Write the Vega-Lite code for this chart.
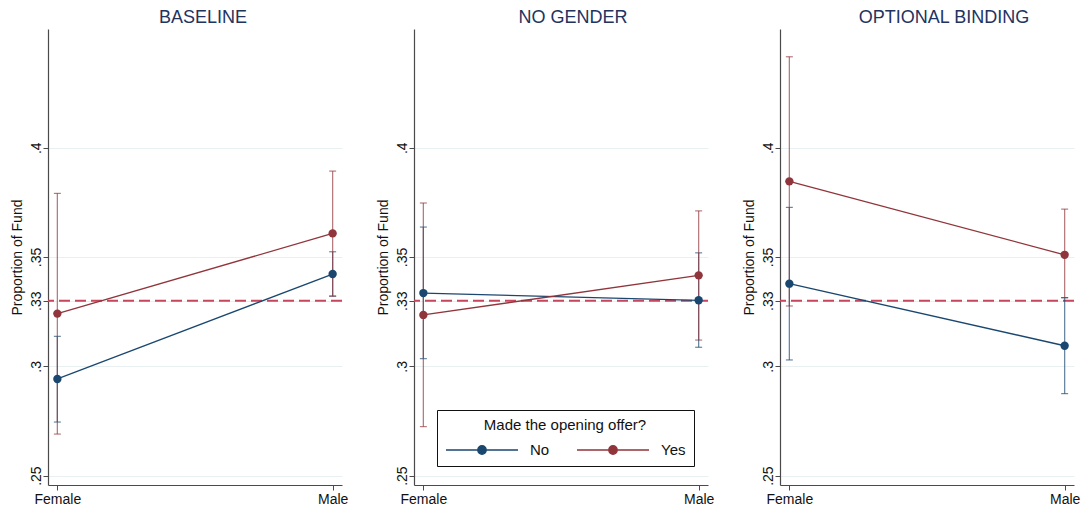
{
  "$schema": "https://vega.github.io/schema/vega-lite/v6.json",
  "background": "white",
  "padding": {"left": 10, "top": 9, "right": 5, "bottom": 2},
  "datasets": {
    "d": [
      {"panel": "BASELINE", "gender": "Female", "offer": "No", "mean": 0.2942, "lo": 0.2745, "hi": 0.3137},
      {"panel": "BASELINE", "gender": "Male", "offer": "No", "mean": 0.3422, "lo": 0.3321, "hi": 0.3524},
      {"panel": "BASELINE", "gender": "Female", "offer": "Yes", "mean": 0.3241, "lo": 0.2690, "hi": 0.3791},
      {"panel": "BASELINE", "gender": "Male", "offer": "Yes", "mean": 0.3608, "lo": 0.3321, "hi": 0.3893},
      {"panel": "NO GENDER", "gender": "Female", "offer": "No", "mean": 0.3335, "lo": 0.3035, "hi": 0.3637},
      {"panel": "NO GENDER", "gender": "Male", "offer": "No", "mean": 0.3302, "lo": 0.3087, "hi": 0.3519},
      {"panel": "NO GENDER", "gender": "Female", "offer": "Yes", "mean": 0.3235, "lo": 0.2724, "hi": 0.3747},
      {"panel": "NO GENDER", "gender": "Male", "offer": "Yes", "mean": 0.3416, "lo": 0.3120, "hi": 0.3711},
      {"panel": "OPTIONAL BINDING", "gender": "Female", "offer": "No", "mean": 0.3378, "lo": 0.3029, "hi": 0.3727},
      {"panel": "OPTIONAL BINDING", "gender": "Male", "offer": "No", "mean": 0.3094, "lo": 0.2875, "hi": 0.3314},
      {"panel": "OPTIONAL BINDING", "gender": "Female", "offer": "Yes", "mean": 0.3846, "lo": 0.3276, "hi": 0.4416},
      {"panel": "OPTIONAL BINDING", "gender": "Male", "offer": "Yes", "mean": 0.3510, "lo": 0.3314, "hi": 0.3719}
    ]
  },
  "spacing": 72,
  "bounds": "flush",
  "resolve": {"scale": {"color": "independent", "y": "independent", "x": "independent"}, "legend": {"color": "independent"}},
  "config": {
    "view": {"stroke": null},
    "font": "Liberation Sans",
    "title": {"fontSize": 18, "fontWeight": "normal", "color": "#22335f", "font": "Liberation Sans", "offset": 2, "frame": "group"},
    "axis": {"domainColor": "#4a4a4a", "tickColor": "#4a4a4a", "labelColor": "#111111", "titleColor": "#111111", "labelFont": "Liberation Sans", "titleFont": "Liberation Sans", "labelFontSize": 14, "titleFontSize": 14, "titleFontWeight": "normal", "tickSize": 5, "domainWidth": 1.2, "tickWidth": 1}
  },
  "hconcat": [
    {
      "width": 294, "height": 456,
      "title": {"text": "BASELINE", "dx": 8},
      "data": {"name": "d"},
      "layer": [
        {"data": {"values": [{}]}, "mark": {"type": "rule", "color": "#c8455e", "strokeWidth": 2, "strokeDash": [11, 5]}, "encoding": {"y": {"datum": 0.33, "type": "quantitative", "scale": {"domain": [0.2457, 0.4543], "nice": false, "zero": false}}}},
        {
          "transform": [{"filter": "datum.panel === 'BASELINE'"}],
          "encoding": {
            "x": {"field": "gender", "type": "nominal", "scale": {"type": "point", "padding": 0.034}, "axis": {"title": null, "labelAngle": 0, "labelPadding": 2}},
            "color": {"field": "offer", "type": "nominal", "scale": {"domain": ["No", "Yes"], "range": ["#1a476f", "#90353b"]}, "legend": null}
          },
          "layer": [
            {"mark": {"type": "errorbar", "ticks": {"size": 7, "thickness": 1.2}, "rule": {"strokeWidth": 1.3}, "opacity": 0.65}, "encoding": {"y": {"field": "lo", "type": "quantitative", "scale": {"domain": [0.2457, 0.4543], "nice": false, "zero": false}, "axis": {"title": "Proportion of Fund", "values": [0.25, 0.3, 0.33, 0.35, 0.4], "labelExpr": "substring(format(datum.value, '.2~f'), 1)", "labelAngle": -90, "labelAlign": "center", "labelBaseline": "alphabetic", "labelPadding": 3, "grid": true, "gridColor": "#e9f0f2", "titlePadding": 5}}, "y2": {"field": "hi"}}},
            {"mark": {"type": "line", "strokeWidth": 1.3}, "encoding": {"y": {"field": "mean", "type": "quantitative"}}},
            {"mark": {"type": "point", "filled": true, "size": 70, "opacity": 1}, "encoding": {"y": {"field": "mean", "type": "quantitative"}}}
          ]
        }
      ]
    },
    {
      "width": 294, "height": 456,
      "title": {"text": "NO GENDER", "dx": 12},
      "data": {"name": "d"},
      "layer": [
        {"data": {"values": [{}]}, "mark": {"type": "rule", "color": "#c8455e", "strokeWidth": 2, "strokeDash": [11, 5]}, "encoding": {"y": {"datum": 0.33, "type": "quantitative", "scale": {"domain": [0.2457, 0.4543], "nice": false, "zero": false}}}},
        {
          "transform": [{"filter": "datum.panel === 'NO GENDER'"}],
          "encoding": {
            "x": {"field": "gender", "type": "nominal", "scale": {"type": "point", "padding": 0.034}, "axis": {"title": null, "labelAngle": 0, "labelPadding": 2}},
            "color": {"field": "offer", "type": "nominal", "scale": {"domain": ["No", "Yes"], "range": ["#1a476f", "#90353b"]},
              "legend": {
                "orient": "none", "legendX": 23, "legendY": 381,
                "direction": "horizontal", "columns": 2,
                "title": "Made the opening offer?", "titleAnchor": "middle", "titleFontSize": 15, "titleFontWeight": "normal", "titleColor": "#111111", "titleFont": "Liberation Sans", "titlePadding": 10,
                "labelFontSize": 15, "labelColor": "#111111", "labelFont": "Liberation Sans", "labelOffset": 11,
                "strokeColor": "#111111", "padding": 8, "columnPadding": 26, "clipHeight": 14,
                "symbolType": "M-1,0L1,0M0.115,0A0.115,0.115,0,1,1,-0.115,0A0.115,0.115,0,1,1,0.115,0Z",
                "symbolSize": 5184, "symbolStrokeWidth": 1.5,
                "encode": {"symbols": {"update": {
                  "fill": {"signal": "datum.value === 'No' ? '#1a476f' : '#90353b'"},
                  "stroke": {"signal": "datum.value === 'No' ? '#1a476f' : '#90353b'"},
                  "opacity": {"value": 1}
                }}}
              }
            }
          },
          "layer": [
            {"mark": {"type": "errorbar", "ticks": {"size": 7, "thickness": 1.2}, "rule": {"strokeWidth": 1.3}, "opacity": 0.65}, "encoding": {"y": {"field": "lo", "type": "quantitative", "scale": {"domain": [0.2457, 0.4543], "nice": false, "zero": false}, "axis": {"title": "Proportion of Fund", "values": [0.25, 0.3, 0.33, 0.35, 0.4], "labelExpr": "substring(format(datum.value, '.2~f'), 1)", "labelAngle": -90, "labelAlign": "center", "labelBaseline": "alphabetic", "labelPadding": 3, "grid": true, "gridColor": "#e9f0f2", "titlePadding": 5}}, "y2": {"field": "hi"}}},
            {"mark": {"type": "line", "strokeWidth": 1.3}, "encoding": {"y": {"field": "mean", "type": "quantitative"}}},
            {"mark": {"type": "point", "filled": true, "size": 70, "opacity": 1}, "encoding": {"y": {"field": "mean", "type": "quantitative"}}}
          ]
        }
      ]
    },
    {
      "width": 294, "height": 456,
      "title": {"text": "OPTIONAL BINDING", "dx": 17},
      "data": {"name": "d"},
      "layer": [
        {"data": {"values": [{}]}, "mark": {"type": "rule", "color": "#c8455e", "strokeWidth": 2, "strokeDash": [11, 5]}, "encoding": {"y": {"datum": 0.33, "type": "quantitative", "scale": {"domain": [0.2457, 0.4543], "nice": false, "zero": false}}}},
        {
          "transform": [{"filter": "datum.panel === 'OPTIONAL BINDING'"}],
          "encoding": {
            "x": {"field": "gender", "type": "nominal", "scale": {"type": "point", "padding": 0.034}, "axis": {"title": null, "labelAngle": 0, "labelPadding": 2}},
            "color": {"field": "offer", "type": "nominal", "scale": {"domain": ["No", "Yes"], "range": ["#1a476f", "#90353b"]}, "legend": null}
          },
          "layer": [
            {"mark": {"type": "errorbar", "ticks": {"size": 7, "thickness": 1.2}, "rule": {"strokeWidth": 1.3}, "opacity": 0.65}, "encoding": {"y": {"field": "lo", "type": "quantitative", "scale": {"domain": [0.2457, 0.4543], "nice": false, "zero": false}, "axis": {"title": "Proportion of Fund", "values": [0.25, 0.3, 0.33, 0.35, 0.4], "labelExpr": "substring(format(datum.value, '.2~f'), 1)", "labelAngle": -90, "labelAlign": "center", "labelBaseline": "alphabetic", "labelPadding": 3, "grid": true, "gridColor": "#e9f0f2", "titlePadding": 5}}, "y2": {"field": "hi"}}},
            {"mark": {"type": "line", "strokeWidth": 1.3}, "encoding": {"y": {"field": "mean", "type": "quantitative"}}},
            {"mark": {"type": "point", "filled": true, "size": 70, "opacity": 1}, "encoding": {"y": {"field": "mean", "type": "quantitative"}}}
          ]
        }
      ]
    }
  ]
}
